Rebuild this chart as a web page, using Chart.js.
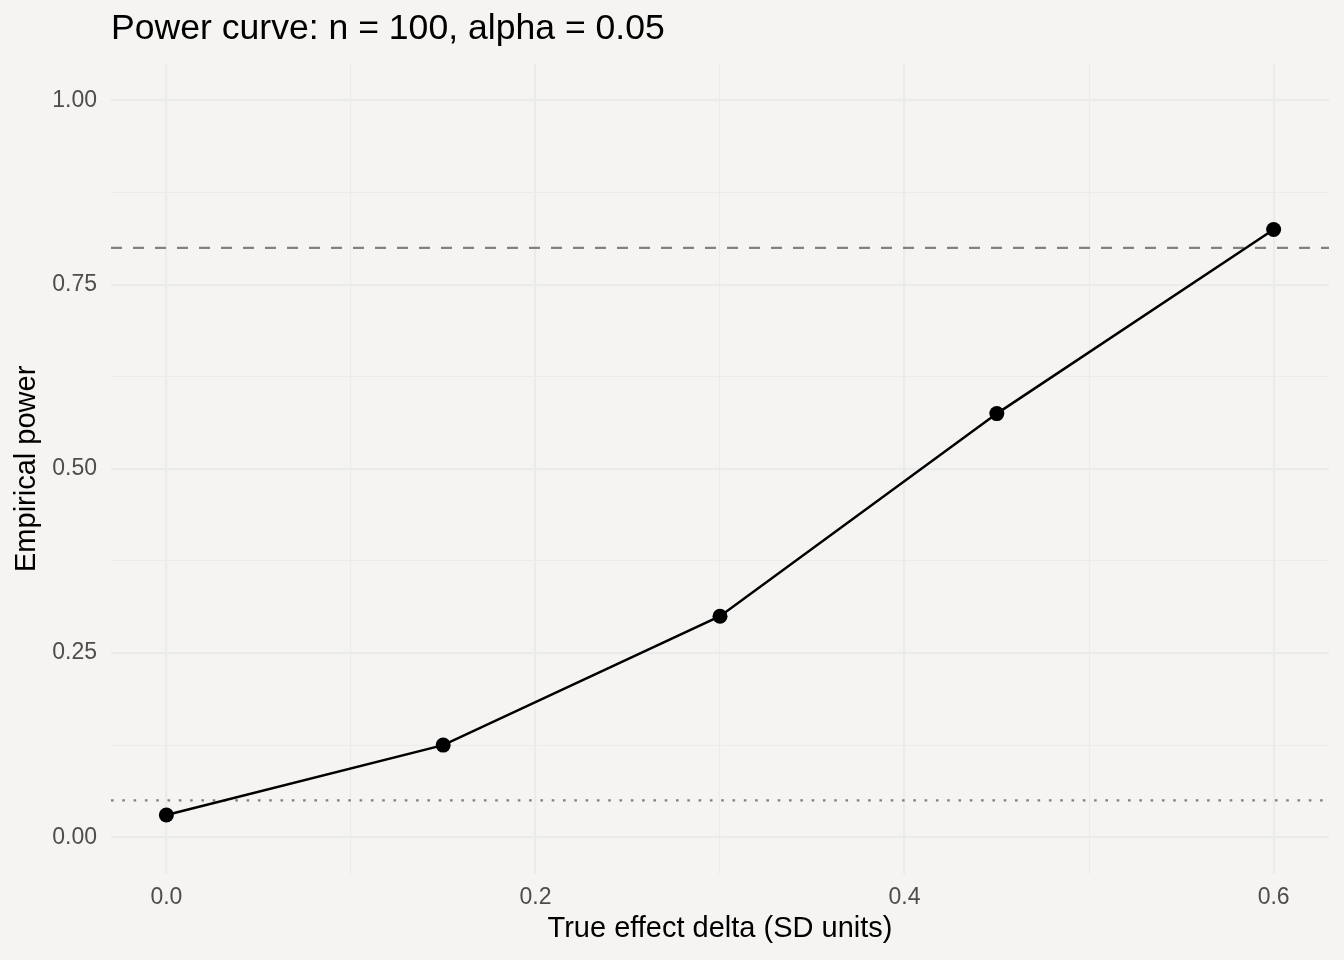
<!DOCTYPE html>
<html>
<head>
<meta charset="utf-8">
<script src="https://cdn.jsdelivr.net/npm/chart.js@4"></script>
<style>
  html, body { margin: 0; padding: 0; background: #f5f4f2; }
  #wrap { width: 1344px; height: 960px; }
</style>
</head>
<body>
<div id="wrap"><canvas id="powerCanvas" width="1344" height="960"></canvas></div>
<script>
// effect sizes and empirical power
const deltas = [0, 0.15, 0.3, 0.45, 0.6];
const power = [0.03, 0.125, 0.30, 0.575, 0.825];
// reference lines
const targetPower = 0.8;
const alphaLevel = 0.05;
// axis ranges (ggplot-like expansion)
const xRange = [-0.03, 0.63];
const yRange = [-0.05, 1.05];
// grid positions (major + minor); labels only on majors
const xGrid = [0, 0.1, 0.2, 0.3, 0.4, 0.5, 0.6];
const xMajor = [0, 0.2, 0.4, 0.6];
const yGrid = [0, 0.125, 0.25, 0.375, 0.5, 0.625, 0.75, 0.875, 1];
const yMajor = [0, 0.25, 0.5, 0.75, 1];

Chart.defaults.font.family = "'Liberation Sans', Arial, sans-serif";

const pts = deltas.map((d, i) => ({ x: d, y: power[i] }));
const hline = v => [{ x: xRange[0], y: v }, { x: xRange[1], y: v }];
const isMajor = (v, list) => list.some(m => Math.abs(m - v) < 1e-9);

new Chart(document.getElementById("powerCanvas").getContext("2d"), {
  type: "line",
  data: {
    datasets: [
      {
        data: pts,
        borderColor: "#000000",
        backgroundColor: "#000000",
        borderWidth: 2.5,
        pointRadius: 7.5,
        pointBorderWidth: 0,
        pointBackgroundColor: "#000000",
        tension: 0
      },
      {
        data: hline(targetPower),
        borderColor: "#808080",
        borderWidth: 2.2,
        borderDash: [11, 11],
        pointRadius: 0
      },
      {
        data: hline(alphaLevel),
        borderColor: "#808080",
        borderWidth: 2.2,
        borderDash: [2.6, 8.7],
        pointRadius: 0
      }
    ]
  },
  options: {
    responsive: false,
    devicePixelRatio: 1,
    animation: false,
    layout: { padding: { left: 0, right: 15, top: 0, bottom: 0 } },
    plugins: {
      legend: { display: false },
      tooltip: { enabled: false },
      title: {
        display: true,
        text: "Power curve: n = 100, alpha = 0.05",
        align: "start",
        fullSize: false,
        color: "#000000",
        font: { size: 35.6, weight: "normal" },
        padding: { top: 8, bottom: 13 }
      }
    },
    scales: {
      x: {
        type: "linear",
        bounds: "data",
        min: xRange[0],
        max: xRange[1],
        afterFit: s => { s.height = 86; },
        afterBuildTicks: s => { s.ticks = xGrid.map(v => ({ value: v })); },
        border: { display: false },
        grid: {
          drawTicks: false,
          color: "#ebebeb",
          lineWidth: c => (c.tick && !isMajor(c.tick.value, xMajor)) ? 1.1 : 2.2
        },
        ticks: {
          autoSkip: false,
          maxRotation: 0,
          padding: 10,
          color: "#4d4d4d",
          font: { size: 23 },
          callback: v => isMajor(v, xMajor) ? v.toFixed(1) : ""
        },
        title: {
          display: true,
          text: "True effect delta (SD units)",
          color: "#000000",
          font: { size: 29 },
          padding: { top: 0, bottom: 14 }
        }
      },
      y: {
        type: "linear",
        bounds: "data",
        min: yRange[0],
        max: yRange[1],
        afterFit: s => { s.width = 111; },
        afterBuildTicks: s => { s.ticks = yGrid.map(v => ({ value: v })); },
        border: { display: false },
        grid: {
          drawTicks: false,
          color: "#ebebeb",
          lineWidth: c => (c.tick && !isMajor(c.tick.value, yMajor)) ? 1.1 : 2.2
        },
        ticks: {
          autoSkip: false,
          padding: 14,
          color: "#4d4d4d",
          font: { size: 23 },
          callback: v => isMajor(v, yMajor) ? v.toFixed(2) : ""
        },
        title: {
          display: true,
          text: "Empirical power",
          color: "#000000",
          font: { size: 29 },
          padding: { top: 10, bottom: 0 }
        }
      }
    }
  }
});
</script>
</body>
</html>
